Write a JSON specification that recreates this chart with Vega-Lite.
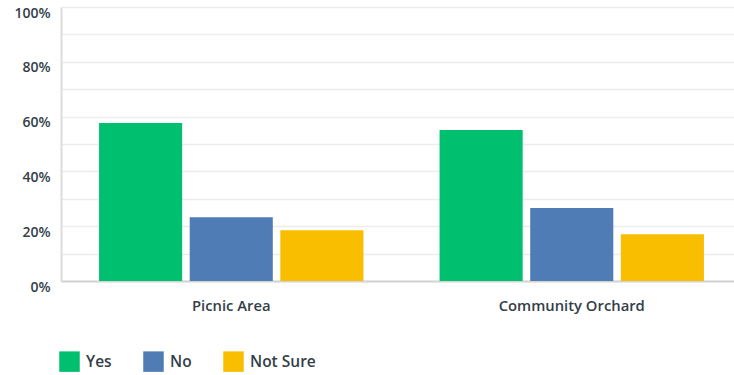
{
  "$schema": "https://vega.github.io/schema/vega-lite/v6.json",
  "autosize": "none",
  "padding": {"left": 61, "top": 7, "right": 0, "bottom": 94},
  "width": 681,
  "height": 274,
  "background": "white",
  "data": {"values": [
    {"question": "Picnic Area", "answer": "Yes", "value": 0.577},
    {"question": "Picnic Area", "answer": "No", "value": 0.233},
    {"question": "Picnic Area", "answer": "Not Sure", "value": 0.185},
    {"question": "Community Orchard", "answer": "Yes", "value": 0.551},
    {"question": "Community Orchard", "answer": "No", "value": 0.266},
    {"question": "Community Orchard", "answer": "Not Sure", "value": 0.171}
  ]},
  "mark": {"type": "bar"},
  "encoding": {
    "x": {"field": "question", "type": "nominal", "sort": ["Picnic Area", "Community Orchard"],
      "scale": {"paddingInner": 0, "paddingOuter": 0},
      "axis": {"title": null, "labelAngle": 0, "ticks": false, "domain": true, "domainColor": "#d3d3d3", "domainWidth": 2,
        "labelFont": "Open Sans", "labelFontWeight": 600, "labelFontSize": 14.8, "labelColor": "#333e48", "labelPadding": 17}},
    "xOffset": {"field": "answer", "type": "nominal", "sort": ["Yes", "No", "Not Sure"],
      "scale": {"paddingInner": 0.083, "paddingOuter": 0.42}},
    "y": {"field": "value", "type": "quantitative",
      "scale": {"domain": [0, 1], "nice": false},
      "axis": {"title": null, "values": [0, 0.1, 0.2, 0.3, 0.4, 0.5, 0.6, 0.7, 0.8, 0.9, 1.0], "format": ".0%",
        "labelExpr": "(round(datum.value*100) % 20 == 0) ? datum.label : ''",
        "ticks": false, "domain": true, "domainColor": "#dcdcdc", "domainWidth": 2,
        "gridColor": "#ececec", "gridWidth": 1.5, "labelOffset": 6,
        "labelFont": "Open Sans", "labelFontWeight": 600, "labelFontSize": 14, "labelColor": "#333e48", "labelPadding": 11}},
    "color": {"field": "answer", "type": "nominal", "sort": ["Yes", "No", "Not Sure"],
      "scale": {"domain": ["Yes", "No", "Not Sure"], "range": ["#00bf6f", "#507cb6", "#f9be00"]},
      "legend": {"title": null, "orient": "none", "legendX": -2, "legendY": 344, "direction": "horizontal",
        "symbolType": "square", "symbolSize": 420, "symbolStrokeWidth": 0, "symbolOpacity": 1,
        "labelFont": "Open Sans", "labelFontWeight": 600, "labelFontSize": 15.5, "labelColor": "#333e48",
        "labelOffset": 6, "columnPadding": 31}}
  },
  "config": {"view": {"stroke": null}}
}
